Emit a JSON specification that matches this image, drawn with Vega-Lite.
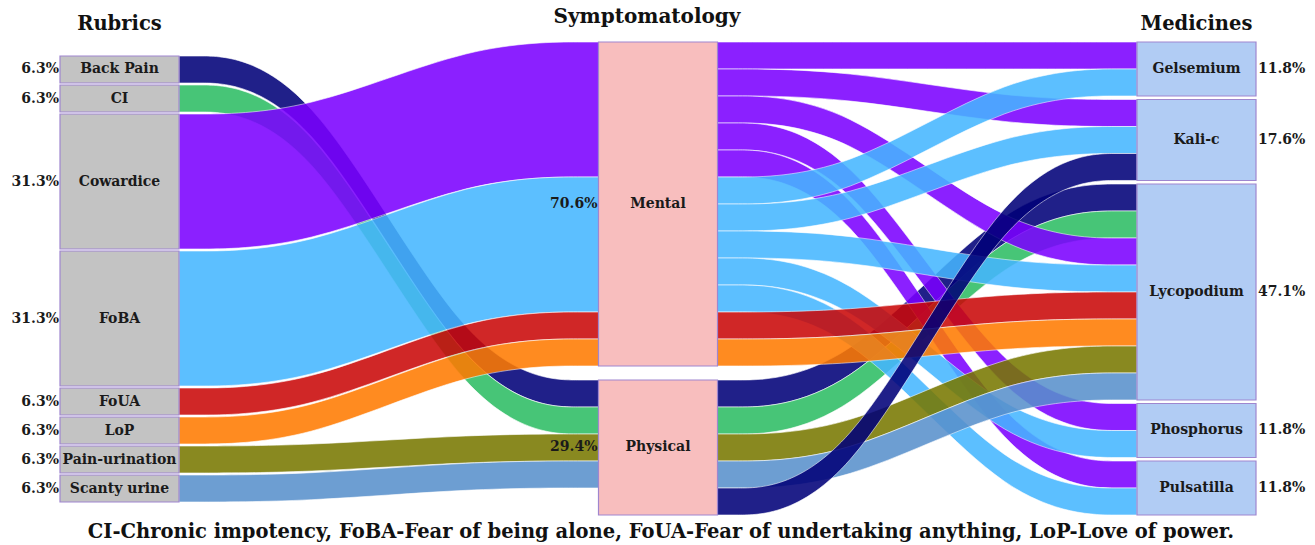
{
  "$schema": "https://vega.github.io/schema/vega-lite/v6.json",
  "width": 1196,
  "height": 473,
  "autosize": {"type": "none"},
  "padding": {"left": 60, "top": 42, "right": 59, "bottom": 30},
  "background": "white",
  "config": {"view": {"stroke": null}},
  "datasets": {
    "nodes": [
      {"name": "Back Pain", "col": 0, "idx": 0, "value": 1},
      {"name": "CI", "col": 0, "idx": 1, "value": 1},
      {"name": "Cowardice", "col": 0, "idx": 2, "value": 5},
      {"name": "FoBA", "col": 0, "idx": 3, "value": 5},
      {"name": "FoUA", "col": 0, "idx": 4, "value": 1},
      {"name": "LoP", "col": 0, "idx": 5, "value": 1},
      {"name": "Pain-urination", "col": 0, "idx": 6, "value": 1},
      {"name": "Scanty urine", "col": 0, "idx": 7, "value": 1},
      {"name": "Mental", "col": 1, "idx": 0, "value": 12},
      {"name": "Physical", "col": 1, "idx": 1, "value": 5},
      {"name": "Gelsemium", "col": 2, "idx": 0, "value": 2},
      {"name": "Kali-c", "col": 2, "idx": 1, "value": 3},
      {"name": "Lycopodium", "col": 2, "idx": 2, "value": 8},
      {"name": "Phosphorus", "col": 2, "idx": 3, "value": 2},
      {"name": "Pulsatilla", "col": 2, "idx": 4, "value": 2}
    ],
    "links": [
      {"id": 1, "stage": 0, "source": "Back Pain", "si": 0, "so": 0, "target": "Physical", "ti": 1, "to": 0, "value": 1, "group": "Back Pain"},
      {"id": 2, "stage": 0, "source": "CI", "si": 1, "so": 0, "target": "Physical", "ti": 1, "to": 1, "value": 1, "group": "CI"},
      {"id": 3, "stage": 0, "source": "Cowardice", "si": 2, "so": 0, "target": "Mental", "ti": 0, "to": 0, "value": 5, "group": "Cowardice"},
      {"id": 4, "stage": 0, "source": "FoBA", "si": 3, "so": 0, "target": "Mental", "ti": 0, "to": 1, "value": 5, "group": "FoBA"},
      {"id": 5, "stage": 0, "source": "FoUA", "si": 4, "so": 0, "target": "Mental", "ti": 0, "to": 2, "value": 1, "group": "FoUA"},
      {"id": 6, "stage": 0, "source": "LoP", "si": 5, "so": 0, "target": "Mental", "ti": 0, "to": 3, "value": 1, "group": "LoP"},
      {"id": 7, "stage": 0, "source": "Pain-urination", "si": 6, "so": 0, "target": "Physical", "ti": 1, "to": 2, "value": 1, "group": "Pain-urination"},
      {"id": 8, "stage": 0, "source": "Scanty urine", "si": 7, "so": 0, "target": "Physical", "ti": 1, "to": 3, "value": 1, "group": "Scanty urine"},
      {"id": 9, "stage": 1, "source": "Physical", "si": 1, "so": 0, "target": "Lycopodium", "ti": 2, "to": 0, "value": 1, "group": "Back Pain"},
      {"id": 10, "stage": 1, "source": "Physical", "si": 1, "so": 1, "target": "Lycopodium", "ti": 2, "to": 1, "value": 1, "group": "CI"},
      {"id": 11, "stage": 1, "source": "Mental", "si": 0, "so": 0, "target": "Gelsemium", "ti": 0, "to": 0, "value": 1, "group": "Cowardice"},
      {"id": 12, "stage": 1, "source": "Mental", "si": 0, "so": 1, "target": "Kali-c", "ti": 1, "to": 0, "value": 1, "group": "Cowardice"},
      {"id": 13, "stage": 1, "source": "Mental", "si": 0, "so": 2, "target": "Lycopodium", "ti": 2, "to": 2, "value": 1, "group": "Cowardice"},
      {"id": 14, "stage": 1, "source": "Mental", "si": 0, "so": 3, "target": "Phosphorus", "ti": 3, "to": 0, "value": 1, "group": "Cowardice"},
      {"id": 15, "stage": 1, "source": "Mental", "si": 0, "so": 4, "target": "Pulsatilla", "ti": 4, "to": 0, "value": 1, "group": "Cowardice"},
      {"id": 16, "stage": 1, "source": "Mental", "si": 0, "so": 5, "target": "Gelsemium", "ti": 0, "to": 1, "value": 1, "group": "FoBA"},
      {"id": 17, "stage": 1, "source": "Mental", "si": 0, "so": 6, "target": "Kali-c", "ti": 1, "to": 1, "value": 1, "group": "FoBA"},
      {"id": 18, "stage": 1, "source": "Mental", "si": 0, "so": 7, "target": "Lycopodium", "ti": 2, "to": 3, "value": 1, "group": "FoBA"},
      {"id": 19, "stage": 1, "source": "Mental", "si": 0, "so": 8, "target": "Phosphorus", "ti": 3, "to": 1, "value": 1, "group": "FoBA"},
      {"id": 20, "stage": 1, "source": "Mental", "si": 0, "so": 9, "target": "Pulsatilla", "ti": 4, "to": 1, "value": 1, "group": "FoBA"},
      {"id": 21, "stage": 1, "source": "Mental", "si": 0, "so": 10, "target": "Lycopodium", "ti": 2, "to": 4, "value": 1, "group": "FoUA"},
      {"id": 22, "stage": 1, "source": "Mental", "si": 0, "so": 11, "target": "Lycopodium", "ti": 2, "to": 5, "value": 1, "group": "LoP"},
      {"id": 23, "stage": 1, "source": "Physical", "si": 1, "so": 2, "target": "Lycopodium", "ti": 2, "to": 6, "value": 1, "group": "Pain-urination"},
      {"id": 24, "stage": 1, "source": "Physical", "si": 1, "so": 3, "target": "Lycopodium", "ti": 2, "to": 7, "value": 1, "group": "Scanty urine"},
      {"id": 25, "stage": 1, "source": "Physical", "si": 1, "so": 4, "target": "Kali-c", "ti": 1, "to": 2, "value": 1, "group": "Back Pain"}
    ],
    "titles": [
      {"label": "Rubrics", "col": 0},
      {"label": "Symptomatology", "col": 1},
      {"label": "Medicines", "col": 2}
    ]
  },
  "layer": [
    {
      "data": {"name": "links"},
      "transform": [
        {"window": [{"op": "sum", "field": "value", "as": "scum"}], "groupby": ["stage"], "sort": [{"field": "si"}, {"field": "so"}], "frame": [null, 0]},
        {"window": [{"op": "sum", "field": "value", "as": "tcum"}], "groupby": ["stage"], "sort": [{"field": "ti"}, {"field": "to"}], "frame": [null, 0]},
        {"calculate": "datum.scum + datum.si * (datum.stage == 0 ? 0.0741 : 0.5185) + (datum.stage == 0 ? 0.5185 : 0)", "as": "s_hi"},
        {"calculate": "datum.s_hi - datum.value", "as": "s_lo"},
        {"calculate": "datum.tcum + datum.ti * (datum.stage == 0 ? 0.5185 : 0.1296)", "as": "t_hi"},
        {"calculate": "datum.t_hi - datum.value", "as": "t_lo"},
        {"calculate": "[0, 0.3, 0.7, 1]", "as": "pts"},
        {"flatten": ["pts"], "as": ["t"]},
        {"calculate": "datum.stage + 0.221 + datum.t * 0.779", "as": "px"},
        {"calculate": "datum.t < 0.5 ? datum.s_lo : datum.t_lo", "as": "ylo"},
        {"calculate": "datum.t < 0.5 ? datum.s_hi : datum.t_hi", "as": "yhi"}
      ],
      "mark": {"type": "area", "interpolate": "basis", "opacity": 0.87, "stroke": "white", "strokeWidth": 0.6},
      "encoding": {
        "x": {"field": "px", "type": "quantitative", "scale": {"domain": [0, 2.221]}, "axis": null},
        "y": {"field": "ylo", "type": "quantitative", "scale": {"domain": [0, 17.5185], "reverse": true}, "axis": null},
        "y2": {"field": "yhi"},
        "detail": {"field": "id", "type": "nominal"},
        "color": {
          "field": "group", "type": "nominal", "legend": null,
          "scale": {
            "domain": ["Back Pain", "CI", "Cowardice", "FoBA", "FoUA", "LoP", "Pain-urination", "Scanty urine"],
            "range": ["#000078", "#2CBD63", "#7A00FF", "#45B6FF", "#CA0808", "#FF7A00", "#787800", "#5890CC"]
          }
        }
      }
    },
    {
      "data": {"name": "nodes"},
      "transform": [
        {"window": [{"op": "sum", "field": "value", "as": "cum"}], "groupby": ["col"], "sort": [{"field": "idx"}], "frame": [null, 0]},
        {"joinaggregate": [{"op": "sum", "field": "value", "as": "total"}], "groupby": ["col"]},
        {"calculate": "datum.cum + datum.idx * (datum.col == 0 ? 0.0741 : datum.col == 1 ? 0.5185 : 0.1296) + (datum.col == 0 ? 0.5185 : 0)", "as": "bot"},
        {"calculate": "datum.bot - datum.value", "as": "top"},
        {"calculate": "(datum.top + datum.bot) / 2", "as": "mid"},
        {"calculate": "datum.col + 0.221", "as": "xr"},
        {"calculate": "datum.col + 0.1105", "as": "xc"},
        {"calculate": "datum.value / datum.total", "as": "pct"}
      ],
      "layer": [
        {
          "mark": {"type": "rect", "stroke": "#9F86CF", "strokeWidth": 1.2},
          "encoding": {
            "x": {"field": "col", "type": "quantitative", "scale": {"domain": [0, 2.221]}, "axis": null},
            "x2": {"field": "xr"},
            "y": {"field": "top", "type": "quantitative", "scale": {"domain": [0, 17.5185], "reverse": true}, "axis": null},
            "y2": {"field": "bot"},
            "fill": {"field": "col", "type": "nominal", "legend": null, "scale": {"domain": [0, 1, 2], "range": ["#C3C3C3", "#F8BEBE", "#B1CCF4"]}}
          }
        },
        {
          "mark": {"type": "text", "font": "DejaVu Serif", "fontWeight": "bold", "fontSize": 14, "color": "#1a1a1a", "align": "center", "baseline": "middle"},
          "encoding": {
            "x": {"field": "xc", "type": "quantitative", "scale": {"domain": [0, 2.221]}, "axis": null},
            "y": {"field": "mid", "type": "quantitative", "scale": {"domain": [0, 17.5185], "reverse": true}, "axis": null},
            "text": {"field": "name"}
          }
        },
        {
          "transform": [{"filter": "datum.col < 2"}],
          "mark": {"type": "text", "font": "DejaVu Serif", "fontWeight": "bold", "fontSize": 14, "color": "#1a1a1a", "align": "right", "baseline": "middle", "dx": -1},
          "encoding": {
            "x": {"field": "col", "type": "quantitative", "scale": {"domain": [0, 2.221]}, "axis": null},
            "y": {"field": "mid", "type": "quantitative", "scale": {"domain": [0, 17.5185], "reverse": true}, "axis": null},
            "text": {"field": "pct", "format": ".1%"}
          }
        },
        {
          "transform": [{"filter": "datum.col == 2"}],
          "mark": {"type": "text", "font": "DejaVu Serif", "fontWeight": "bold", "fontSize": 14, "color": "#1a1a1a", "align": "left", "baseline": "middle", "dx": 2},
          "encoding": {
            "x": {"field": "xr", "type": "quantitative", "scale": {"domain": [0, 2.221]}, "axis": null},
            "y": {"field": "mid", "type": "quantitative", "scale": {"domain": [0, 17.5185], "reverse": true}, "axis": null},
            "text": {"field": "pct", "format": ".1%"}
          }
        }
      ]
    },
    {
      "data": {"name": "titles"},
      "transform": [
        {"filter": "datum.col != 1"},
        {"calculate": "datum.col + 0.1105", "as": "xc"}
      ],
      "mark": {"type": "text", "font": "DejaVu Serif", "fontWeight": "bold", "fontSize": 19.5, "color": "#111", "align": "center", "baseline": "alphabetic"},
      "encoding": {
        "x": {"field": "xc", "type": "quantitative", "scale": {"domain": [0, 2.221]}, "axis": null},
        "y": {"datum": -0.45, "type": "quantitative", "scale": {"domain": [0, 17.5185], "reverse": true}, "axis": null},
        "text": {"field": "label"}
      }
    },
    {
      "data": {"name": "titles"},
      "transform": [
        {"filter": "datum.col == 1"},
        {"calculate": "datum.col + 0.09", "as": "xc"}
      ],
      "mark": {"type": "text", "font": "DejaVu Serif", "fontWeight": "bold", "fontSize": 20, "color": "#111", "align": "center", "baseline": "alphabetic"},
      "encoding": {
        "x": {"field": "xc", "type": "quantitative", "scale": {"domain": [0, 2.221]}, "axis": null},
        "y": {"datum": -0.72, "type": "quantitative", "scale": {"domain": [0, 17.5185], "reverse": true}, "axis": null},
        "text": {"field": "label"}
      }
    },
    {
      "data": {"values": [{"caption": "CI-Chronic impotency, FoBA-Fear of being alone, FoUA-Fear of undertaking anything, LoP-Love of power."}]},
      "mark": {"type": "text", "font": "DejaVu Serif", "fontWeight": "bold", "fontSize": 19.5, "color": "#111", "align": "center", "baseline": "alphabetic"},
      "encoding": {
        "x": {"datum": 1.116, "type": "quantitative", "scale": {"domain": [0, 2.221]}, "axis": null},
        "y": {"datum": 18.37, "type": "quantitative", "scale": {"domain": [0, 17.5185], "reverse": true}, "axis": null},
        "text": {"field": "caption"}
      }
    }
  ]
}
